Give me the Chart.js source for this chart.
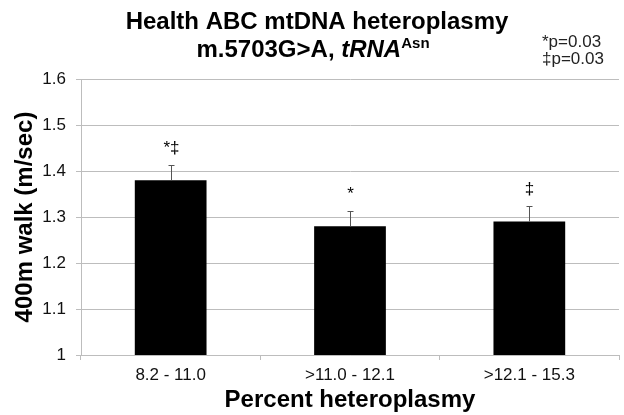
<!DOCTYPE html>
<html>
<head>
<meta charset="utf-8">
<script src="https://cdn.jsdelivr.net/npm/chart.js@4/dist/chart.umd.min.js"></script>
<style>
  html, body { margin: 0; padding: 0; background: #fff; }
  #wrap { width: 624px; height: 415px; }
</style>
</head>
<body>
<div id="wrap"><canvas id="walkChart" width="624" height="415"></canvas></div>
<script>
// Data
const categories = ['8.2 - 11.0', '>11.0 - 12.1', '>12.1 - 15.3'];
const walkSpeed = [1.38, 1.28, 1.29];
const walkError = [0.033, 0.034, 0.034];
const sigMarks = ['*\u2021', '*', '\u2021'];
const yTicks = [1, 1.1, 1.2, 1.3, 1.4, 1.5, 1.6];
const pNotes = ['*p=0.03', '\u2021p=0.03'];

const FONT = '"Liberation Sans", Arial, sans-serif';
const GRID = '#bdbdbd';

// Title, p-value notes
const titlePlugin = {
    id: 'titleText',
    afterDraw(chart) {
        const ctx = chart.ctx;
        ctx.save();
        ctx.fillStyle = '#000';
        ctx.textBaseline = 'middle';

        ctx.font = 'bold 24px ' + FONT;
        ctx.textAlign = 'center';
        ctx.fillText('Health ABC mtDNA heteroplasmy', 317, 22);

        // second line: mixed styles
        const parts = [
            { text: 'm.5703G>A, ', font: 'bold 24px ' + FONT, dy: 0 },
            { text: 'tRNA', font: 'italic bold 24px ' + FONT, dy: 0 },
            { text: 'Asn', font: 'bold 15px ' + FONT, dy: -6 }
        ];
        let total = 0;
        parts.forEach(p => { ctx.font = p.font; total += ctx.measureText(p.text).width; });
        let x = 313 - total / 2;
        ctx.textAlign = 'left';
        parts.forEach(p => {
            ctx.font = p.font;
            ctx.fillText(p.text, x, 50 + p.dy);
            x += ctx.measureText(p.text).width;
        });

        ctx.font = '17px ' + FONT;
        ctx.fillStyle = '#222';
        pNotes.forEach((t, i) => ctx.fillText(t, 542, 42 + i * 17));
        ctx.restore();
    }
};

// Error bars + significance marks
const errorPlugin = {
    id: 'errorBars',
    afterDatasetsDraw(chart) {
        const ctx = chart.ctx;
        const xs = chart.scales.x;
        const ys = chart.scales.y;
        ctx.save();
        ctx.strokeStyle = '#555';
        ctx.lineWidth = 1;
        walkSpeed.forEach((v, i) => {
            const cx = Math.round(xs.getPixelForValue(i)) + 0.5;
            const y0 = ys.getPixelForValue(v);
            const y1 = ys.getPixelForValue(v + walkError[i]);
            ctx.beginPath();
            ctx.moveTo(cx, y0);
            ctx.lineTo(cx, Math.round(y1) + 0.5);
            ctx.moveTo(cx - 3, Math.round(y1) + 0.5);
            ctx.lineTo(cx + 3, Math.round(y1) + 0.5);
            ctx.stroke();

            ctx.fillStyle = '#000';
            ctx.font = '17px ' + FONT;
            ctx.textAlign = 'center';
            ctx.textBaseline = 'bottom';
            ctx.fillText(sigMarks[i], cx, y1 - 8);
        });
        ctx.restore();
    }
};

const ctx = document.getElementById('walkChart').getContext('2d');
new Chart(ctx, {
    type: 'bar',
    data: {
        labels: categories,
        datasets: [{
            data: walkSpeed,
            backgroundColor: '#000',
            borderWidth: 0,
            barPercentage: 0.4,
            categoryPercentage: 1
        }]
    },
    options: {
        responsive: false,
        animation: false,
        layout: { padding: { top: 79, right: 5, left: 0, bottom: 0 } },
        plugins: {
            legend: { display: false },
            tooltip: { enabled: false }
        },
        scales: {
            x: {
                afterFit(scale) { scale.height = 60; },
                grid: {
                    drawOnChartArea: false,
                    drawTicks: true,
                    tickLength: 5,
                    color: GRID
                },
                border: { color: GRID },
                ticks: {
                    color: '#111',
                    padding: 5,
                    font: { family: FONT, size: 17 }
                },
                title: {
                    display: true,
                    text: 'Percent heteroplasmy',
                    color: '#000',
                    padding: { top: 0, bottom: 0 },
                    font: { family: FONT, size: 24, weight: 'bold' }
                }
            },
            y: {
                min: 1,
                max: 1.6,
                afterFit(scale) { scale.width = 81; },
                afterBuildTicks(scale) { scale.ticks = yTicks.map(v => ({ value: v })); },
                grid: {
                    color: GRID,
                    tickLength: 5
                },
                border: { color: GRID },
                ticks: {
                    color: '#111',
                    padding: 10,
                    font: { family: FONT, size: 17 },
                    callback: v => String(Math.round(v * 10) / 10)
                },
                title: {
                    display: true,
                    text: '400m walk (m/sec)',
                    color: '#000',
                    padding: { top: 11, bottom: 0 },
                    font: { family: FONT, size: 24, weight: 'bold' }
                }
            }
        }
    },
    plugins: [titlePlugin, errorPlugin]
});
</script>
</body>
</html>
